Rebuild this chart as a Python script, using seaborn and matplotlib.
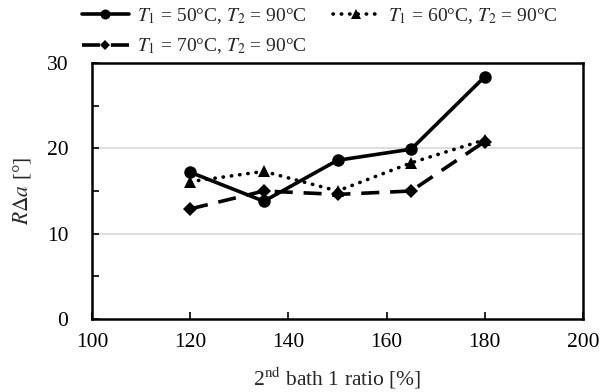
import matplotlib
matplotlib.use("Agg")
import matplotlib.pyplot as plt
import seaborn as sns
import pandas as pd
from matplotlib.ticker import MultipleLocator

ratio = [120, 135, 150, 165, 180]
s_50 = [17.2, 13.8, 18.6, 19.9, 28.4]
s_60 = [16.1, 17.3, 15.0, 18.3, 21.0]
s_70 = [12.9, 15.0, 14.6, 15.0, 20.8]
labels = ["$T_1$ = 50°C, $T_2$ = 90°C",
          "$T_1$ = 60°C, $T_2$ = 90°C",
          "$T_1$ = 70°C, $T_2$ = 90°C"]

sns.set_theme(style="white")
plt.rcParams["font.family"] = ["Liberation Serif", "DejaVu Serif"]
plt.rcParams["mathtext.fontset"] = "stix"

fig = plt.figure(figsize=(6, 3.92), dpi=100)
ax = fig.add_axes([92/600, 1-319/392, (583-92)/600, (319-63)/392])

styles = [
    dict(marker="o", linestyle="-", markersize=9),
    dict(marker="^", linestyle=(0, (0.1, 2.2)), markersize=9, dash_capstyle="round"),
    dict(marker="D", linestyle=(0, (5, 3)), markersize=7),
]
for vals, lab, st in zip([s_50, s_60, s_70], labels, styles):
    df = pd.DataFrame({"x": ratio, "y": vals})
    sns.lineplot(data=df, x="x", y="y", ax=ax, color="black", linewidth=2.6,
                 label=lab, markeredgewidth=0, **st)

ax.set_xlim(100, 200)
ax.set_ylim(0, 30)
ax.xaxis.set_major_locator(MultipleLocator(20))
ax.yaxis.set_major_locator(MultipleLocator(10))
ax.yaxis.set_minor_locator(MultipleLocator(5))
ax.tick_params(axis="both", which="both", direction="in", colors="black",
               labelsize=15.5)
ax.tick_params(axis="y", which="major", length=5, width=1.2, pad=17, left=True)
ax.tick_params(axis="y", which="minor", length=5, width=1.2, left=True)
ax.tick_params(axis="x", which="major", length=5, width=1.2, pad=10, bottom=True)
for y in [10, 20]:
    ax.axhline(y, color="#d9d9d9", linewidth=1.2, zorder=0)
for sp in ax.spines.values():
    sp.set_color("black")
    sp.set_linewidth(1.8)

ax.set_xlabel("2$^{\\mathrm{nd}}$ bath 1 ratio [%]", fontsize=15.5, labelpad=9)
ax.set_ylabel("$R\\mathit{Δ}a$ [°]", fontsize=15.5, labelpad=10)

h, l = ax.get_legend_handles_labels()
order = [0, 2, 1]
ax.legend([h[i] for i in order], [l[i] for i in order],
          loc="lower left", bbox_to_anchor=(-0.04, 0.988), ncol=2, frameon=False,
          fontsize=14, handlelength=2.4, handletextpad=0.45, markerscale=0.8,
          columnspacing=1.3, labelspacing=0.55, borderaxespad=0.1)

fig.savefig("out.png", dpi=100)
